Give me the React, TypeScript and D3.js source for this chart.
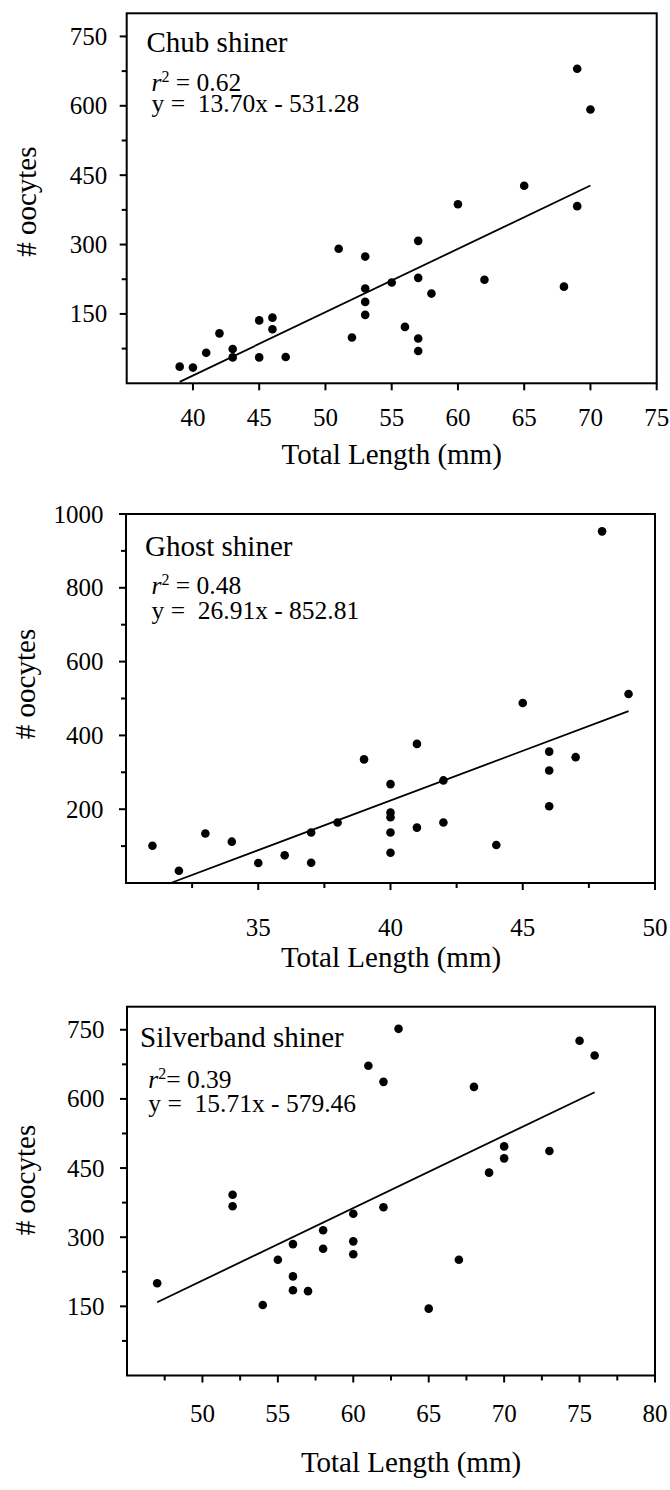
import React from 'react';
import * as d3 from 'd3';

// Chub shiner: total length (mm) vs. number of oocytes
const chubLength = [39, 40, 41, 42, 43, 43, 45, 45, 46, 46, 47, 51, 52, 53, 53, 53, 53, 55, 56, 57, 57, 57, 57, 58, 60, 62, 65, 68, 69, 69, 70];
const chubOocytes = [36, 34, 66, 108, 74, 56, 136, 56, 142, 117, 57, 291, 99, 274, 205, 176, 148, 218, 122, 308, 228, 97, 70, 194, 387, 224, 427, 209, 680, 383, 592];
const chubSlope = 13.7;
const chubIntercept = -531.28;
const chubR2 = 0.62;
const chubXTicks = [40, 45, 50, 55, 60, 65, 70, 75];
const chubXMinor: number[] = [];
const chubYTicks = [150, 300, 450, 600, 750];
const chubYMinor = [75, 225, 375, 525, 675];

// Ghost shiner
const ghostLength = [31, 32, 33, 34, 35, 36, 37, 37, 38, 39, 40, 40, 40, 40, 40, 41, 41, 42, 42, 44, 45, 46, 46, 46, 47, 48, 49];
const ghostOocytes = [101, 33, 134, 112, 54, 75, 137, 55, 164, 335, 268, 191, 178, 137, 82, 377, 150, 278, 164, 103, 488, 356, 305, 208, 341, 953, 512];
const ghostSlope = 26.91;
const ghostIntercept = -852.81;
const ghostR2 = 0.48;
const ghostXTicks = [35, 40, 45, 50];
const ghostXMinor = [32.5, 37.5, 42.5, 47.5];
const ghostYTicks = [200, 400, 600, 800, 1000];
const ghostYMinor = [100, 300, 500, 700, 900];

// Silverband shiner
const silverLength = [47, 52, 52, 54, 55, 56, 56, 56, 57, 58, 58, 60, 60, 60, 61, 62, 62, 63, 65, 67, 68, 69, 70, 70, 73, 75, 76];
const silverOocytes = [200, 392, 367, 153, 251, 285, 215, 185, 183, 315, 275, 351, 291, 263, 672, 637, 365, 752, 145, 251, 626, 440, 497, 471, 487, 726, 694];
const silverSlope = 15.71;
const silverIntercept = -579.46;
const silverR2 = 0.39;
const silverXTicks = [50, 55, 60, 65, 70, 75, 80];
const silverXMinor = [47.5, 52.5, 57.5, 62.5, 67.5, 72.5, 77.5];
const silverYTicks = [150, 300, 450, 600, 750];
const silverYMinor = [75, 225, 375, 525, 675];

const FONT = '"Liberation Serif", "Times New Roman", Times, serif';

type PanelSpec = {
  name: string;
  xs: number[];
  ys: number[];
  slope: number;
  intercept: number;
  r2: number;
  r2Gap: string;
  xDomain: [number, number];
  yDomain: [number, number];
  xTicks: number[];
  xMinor: number[];
  yTicks: number[];
  yMinor: number[];
  // layout
  left: number;
  right: number;
  top: number;
  bottom: number;
  titlePos: [number, number];
  statPos: [number, number];
  eqPos: [number, number];
  yLabelGap: number;
  xLabelY: number;
  xTitle: [number, number];
  yTitle: [number, number];
};

const panels: PanelSpec[] = [
  {
    name: 'Chub shiner',
    xs: chubLength, ys: chubOocytes, slope: chubSlope, intercept: chubIntercept, r2: chubR2, r2Gap: ' ',
    xDomain: [35, 75], yDomain: [0, 800],
    xTicks: chubXTicks, xMinor: chubXMinor, yTicks: chubYTicks, yMinor: chubYMinor,
    left: 126.7, right: 656.7, top: 13.3, bottom: 383.3,
    titlePos: [146.5, 51.7], statPos: [151.5, 90.7], eqPos: [151.5, 111.7],
    yLabelGap: 19.5, xLabelY: 425.8, xTitle: [391.7, 464], yTitle: [36, 201.7],
  },
  {
    name: 'Ghost shiner',
    xs: ghostLength, ys: ghostOocytes, slope: ghostSlope, intercept: ghostIntercept, r2: ghostR2, r2Gap: ' ',
    xDomain: [30, 50], yDomain: [0, 1000],
    xTicks: ghostXTicks, xMinor: ghostXMinor, yTicks: ghostYTicks, yMinor: ghostYMinor,
    left: 126, right: 655, top: 514, bottom: 883,
    titlePos: [145, 556], statPos: [151.5, 594], eqPos: [151.5, 619.3],
    yLabelGap: 22.5, xLabelY: 936, xTitle: [391, 967], yTitle: [35, 684],
  },
  {
    name: 'Silverband shiner',
    xs: silverLength, ys: silverOocytes, slope: silverSlope, intercept: silverIntercept, r2: silverR2, r2Gap: '',
    xDomain: [45, 80], yDomain: [0, 800],
    xTicks: silverXTicks, xMinor: silverXMinor, yTicks: silverYTicks, yMinor: silverYMinor,
    left: 127, right: 655, top: 1006.7, bottom: 1375.5,
    titlePos: [140, 1046.7], statPos: [148.3, 1088.3], eqPos: [148.3, 1111.7],
    yLabelGap: 22.5, xLabelY: 1421.8, xTitle: [411, 1471.7], yTitle: [35, 1180],
  },
];

const TICK_MAJOR = 7;
const TICK_MINOR = 5;

function Panel({ p }: { p: PanelSpec }) {
  const x = d3.scaleLinear().domain(p.xDomain).range([p.left, p.right]);
  const y = d3.scaleLinear().domain(p.yDomain).range([p.bottom, p.top]);

  // fitted line over the observed length range, kept above zero
  const fit = (v: number) => p.slope * v + p.intercept;
  const x0 = Math.max(d3.min(p.xs) as number, -p.intercept / p.slope);
  const x1 = d3.max(p.xs) as number;
  const fitPath = d3.line()([
    [x(x0), y(fit(x0))],
    [x(x1), y(fit(x1))],
  ]) as string;

  const eqText = `y =  ${p.slope.toFixed(2)}x - ${Math.abs(p.intercept).toFixed(2)}`;

  return (
    <g fontFamily={FONT} fill="#000">
      <rect
        x={p.left}
        y={p.top}
        width={p.right - p.left}
        height={p.bottom - p.top}
        fill="none"
        stroke="#000"
        strokeWidth={2}
      />
      {p.yTicks.map((t) => (
        <g key={'yt' + t}>
          <line x1={p.left - TICK_MAJOR} x2={p.left} y1={y(t)} y2={y(t)} stroke="#000" strokeWidth={2} />
          <text x={p.left - p.yLabelGap} y={y(t)} dy="0.34em" textAnchor="end" fontSize={25}>
            {t}
          </text>
        </g>
      ))}
      {p.yMinor.map((t) => (
        <line key={'ym' + t} x1={p.left - TICK_MINOR} x2={p.left} y1={y(t)} y2={y(t)} stroke="#000" strokeWidth={2} />
      ))}
      {p.xTicks.map((t) => (
        <g key={'xt' + t}>
          <line x1={x(t)} x2={x(t)} y1={p.bottom} y2={p.bottom + TICK_MAJOR} stroke="#000" strokeWidth={2} />
          <text x={x(t)} y={p.xLabelY} textAnchor="middle" fontSize={25}>
            {t}
          </text>
        </g>
      ))}
      {p.xMinor.map((t) => (
        <line key={'xm' + t} x1={x(t)} x2={x(t)} y1={p.bottom} y2={p.bottom + TICK_MINOR} stroke="#000" strokeWidth={2} />
      ))}

      <path d={fitPath} stroke="#000" strokeWidth={1.8} fill="none" />
      {p.xs.map((v, i) => (
        <circle key={'pt' + i} cx={x(v)} cy={y(p.ys[i])} r={4.3} fill="#000" />
      ))}

      <text x={p.titlePos[0]} y={p.titlePos[1]} fontSize={29}>
        {p.name}
      </text>
      <text x={p.statPos[0]} y={p.statPos[1]} fontSize={25.5} style={{ whiteSpace: 'pre' }}>
        <tspan fontStyle="italic">r</tspan>
        <tspan fontSize={16} dy={-9}>2</tspan>
        <tspan dy={9}>{p.r2Gap + '= ' + p.r2.toFixed(2)}</tspan>
      </text>
      <text x={p.eqPos[0]} y={p.eqPos[1]} fontSize={25.5} style={{ whiteSpace: 'pre' }}>
        {eqText}
      </text>

      <text x={p.xTitle[0]} y={p.xTitle[1]} textAnchor="middle" fontSize={29}>
        Total Length (mm)
      </text>
      <text
        transform={`translate(${p.yTitle[0]},${p.yTitle[1]}) rotate(-90)`}
        textAnchor="middle"
        fontSize={29}
      >
        # oocytes
      </text>
    </g>
  );
}

export default function App() {
  return (
    <svg
      width={670}
      height={1490}
      viewBox="0 0 670 1490"
      style={{ position: 'absolute', left: 0, top: 0, background: '#fff' }}
    >
      <rect x={0} y={0} width={670} height={1490} fill="#fff" />
      {panels.map((p) => (
        <Panel key={p.name} p={p} />
      ))}
    </svg>
  );
}
